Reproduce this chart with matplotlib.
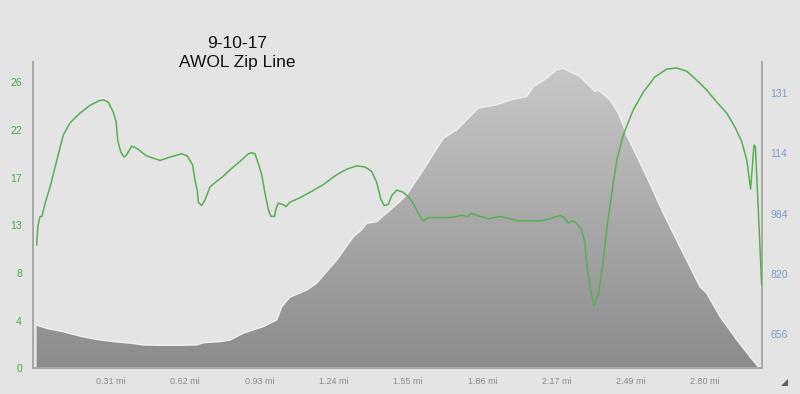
import numpy as np
import matplotlib.pyplot as plt
from matplotlib.colors import LinearSegmentedColormap
from matplotlib.patches import Polygon

# speed trace (left axis)
speed_mi = [0.000, 0.005, 0.014, 0.022, 0.035, 0.056, 0.084, 0.111, 0.139, 0.181,
            0.223, 0.258, 0.279, 0.299, 0.320, 0.332, 0.339, 0.351, 0.365, 0.376,
            0.397, 0.418, 0.460, 0.516, 0.557, 0.606, 0.630, 0.652, 0.662, 0.672,
            0.676, 0.690, 0.704, 0.725, 0.753, 0.788, 0.801, 0.850, 0.885, 0.899,
            0.913, 0.927, 0.941, 0.955, 0.969, 0.980, 0.994, 1.001, 1.010, 1.029,
            1.043, 1.059, 1.101, 1.143, 1.199, 1.255, 1.297, 1.338, 1.373, 1.401,
            1.422, 1.439, 1.453, 1.471, 1.485, 1.506, 1.533, 1.554, 1.575, 1.596,
            1.617, 1.638, 1.687, 1.729, 1.777, 1.805, 1.815, 1.840, 1.889, 1.938,
            2.014, 2.112, 2.161, 2.189, 2.206, 2.223, 2.242, 2.258, 2.279, 2.293,
            2.300, 2.314, 2.331, 2.349, 2.366, 2.384, 2.405, 2.426, 2.453, 2.495,
            2.537, 2.586, 2.635, 2.677, 2.719, 2.760, 2.802, 2.844, 2.886, 2.921,
            2.949, 2.970, 2.986, 3.000, 3.006, 3.018, 3.032]
speed = [11.2, 12.9, 13.8, 13.8, 15.0, 16.5, 18.9, 21.2, 22.3, 23.2,
         23.9, 24.3, 24.4, 24.2, 23.3, 22.4, 20.7, 19.7, 19.2, 19.4,
         20.2, 20.0, 19.3, 18.9, 19.2, 19.5, 19.3, 18.5, 17.1, 16.1,
         15.1, 14.8, 15.3, 16.5, 17.0, 17.6, 17.9, 18.8, 19.5, 19.6,
         19.5, 18.6, 17.6, 15.9, 14.4, 13.8, 13.8, 14.5, 15.0, 14.9,
         14.7, 15.1, 15.5, 16.0, 16.7, 17.6, 18.1, 18.4, 18.3, 17.9,
         16.9, 15.4, 14.8, 14.9, 15.7, 16.2, 16.0, 15.6, 15.0, 14.1,
         13.4, 13.7, 13.7, 13.7, 13.9, 13.8, 14.1, 13.9, 13.6, 13.8,
         13.4, 13.4, 13.7, 13.9, 13.7, 13.2, 13.4, 13.2, 12.6, 11.4,
         9.5, 7.4, 5.7, 6.7, 9.2, 12.6, 15.9, 18.9, 21.2, 23.5,
         25.1, 26.5, 27.2, 27.3, 27.0, 26.2, 25.3, 24.2, 23.2, 21.9,
         20.6, 18.9, 16.3, 20.3, 20.1, 14.4, 7.6]

# elevation profile (right axis, ft)
elev_mi = [0.000, 0.042, 0.111, 0.181, 0.251, 0.320, 0.390, 0.446, 0.529, 0.599,
           0.669, 0.697, 0.767, 0.808, 0.864, 0.948, 1.004, 1.025, 1.059, 1.129,
           1.171, 1.255, 1.324, 1.359, 1.380, 1.422, 1.478, 1.519, 1.547, 1.617,
           1.701, 1.757, 1.847, 1.924, 1.993, 2.049, 2.077, 2.126, 2.175, 2.202,
           2.244, 2.272, 2.293, 2.335, 2.349, 2.398, 2.433, 2.474, 2.551, 2.621,
           2.704, 2.774, 2.802, 2.858, 2.928, 2.983, 3.018]
elev = [681, 672, 663, 651, 642, 636, 632, 627, 626, 626,
        627, 633, 636, 640, 659, 677, 695, 731, 757, 776,
        795, 858, 921, 940, 958, 962, 994, 1017, 1035, 1103,
        1189, 1212, 1271, 1280, 1295, 1302, 1329, 1349, 1375, 1379,
        1366, 1357, 1343, 1316, 1320, 1293, 1257, 1189, 1085, 985,
        876, 785, 768, 704, 641, 595, 568]

x_ticks = [0.3107, 0.6214, 0.9321, 1.2427, 1.5534, 1.8641, 2.1748, 2.4855, 2.7962]
x_labels = ['0.31 mi', '0.62 mi', '0.93 mi', '1.24 mi', '1.55 mi',
            '1.86 mi', '2.17 mi', '2.49 mi', '2.80 mi']
left_ticks = [0, 26 / 6, 52 / 6, 13, 104 / 6, 130 / 6, 26]
left_labels = ['0', '4', '8', '13', '17', '22', '26']
right_ticks = [656, 820, 984, 1148, 1312]
right_labels = ['656', '820', '984', '114', '131']

plt.rcParams['font.family'] = ['Liberation Sans', 'DejaVu Sans']

fig = plt.figure(figsize=(8, 3.94), dpi=100, facecolor='#e5e4e5')
ax = fig.add_axes([0.04125, 0.0652, 0.91125, 0.7782])
ax2 = ax.twinx()
ax.set_zorder(ax2.get_zorder() + 1)
ax.patch.set_visible(False)
ax2.set_facecolor('#e5e4e5')

xlim = (-0.0155, 3.0335)
ax.set_xlim(*xlim)
ax.set_ylim(0, 27.87)
ax2.set_ylim(563.5, 1397)
ax2.set_xlim(*xlim)

# elevation area with a vertical grey gradient
poly = ax2.fill_between(elev_mi, 563.5, elev, color='none', lw=0)
grad = np.linspace(0, 1, 256).reshape(-1, 1)
cmap = LinearSegmentedColormap.from_list('g', ['#8b8b8b', '#c9c9c9'])
im = ax2.imshow(grad, cmap=cmap, origin='lower', aspect='auto',
                extent=[xlim[0], xlim[1], 563.5, 1397], zorder=1)
im.set_clip_path(poly.get_paths()[0], transform=ax2.transData)
ax2.plot(elev_mi, elev, color='#f0f0f0', lw=1.0, zorder=2)

ax.plot(speed_mi, speed, color='#55b050', lw=1.1, zorder=3,
        solid_joinstyle='round', solid_capstyle='round')

ax.set_xticks(x_ticks)
ax.set_xticklabels(x_labels, color='#8a8a8a', fontsize=6.5)
ax.set_yticks(left_ticks)
ax.set_yticklabels(left_labels, color='#4aa84a', fontsize=7.5)
ax2.set_yticks(right_ticks)
ax2.set_yticklabels(right_labels, color='#7a9cc8', fontsize=7.5)
ax.tick_params(axis='both', length=0, pad=8)
ax.tick_params(axis='x', pad=6)
ax2.tick_params(axis='y', length=0, pad=6)

for a in (ax, ax2):
    a.spines['top'].set_visible(False)
    for s in ('left', 'right', 'bottom'):
        a.spines[s].set_color('#a8a8a8')
        a.spines[s].set_linewidth(1.3)

fig.text(237 / 800, 1 - 43 / 394, '9-10-17', ha='center', va='center',
         fontsize=12.5, color='#111111')
fig.text(237 / 800, 1 - 63 / 394, 'AWOL Zip Line', ha='center', va='center',
         fontsize=12.5, color='#111111')

# small resize grip in the corner
fig.patches.append(Polygon([(781 / 800, 1 - 386 / 394), (788 / 800, 1 - 386 / 394),
                            (788 / 800, 1 - 379 / 394)],
                           closed=True, transform=fig.transFigure,
                           facecolor='#606060', edgecolor='none'))

fig.savefig('out.png', dpi=100, facecolor=fig.get_facecolor())
